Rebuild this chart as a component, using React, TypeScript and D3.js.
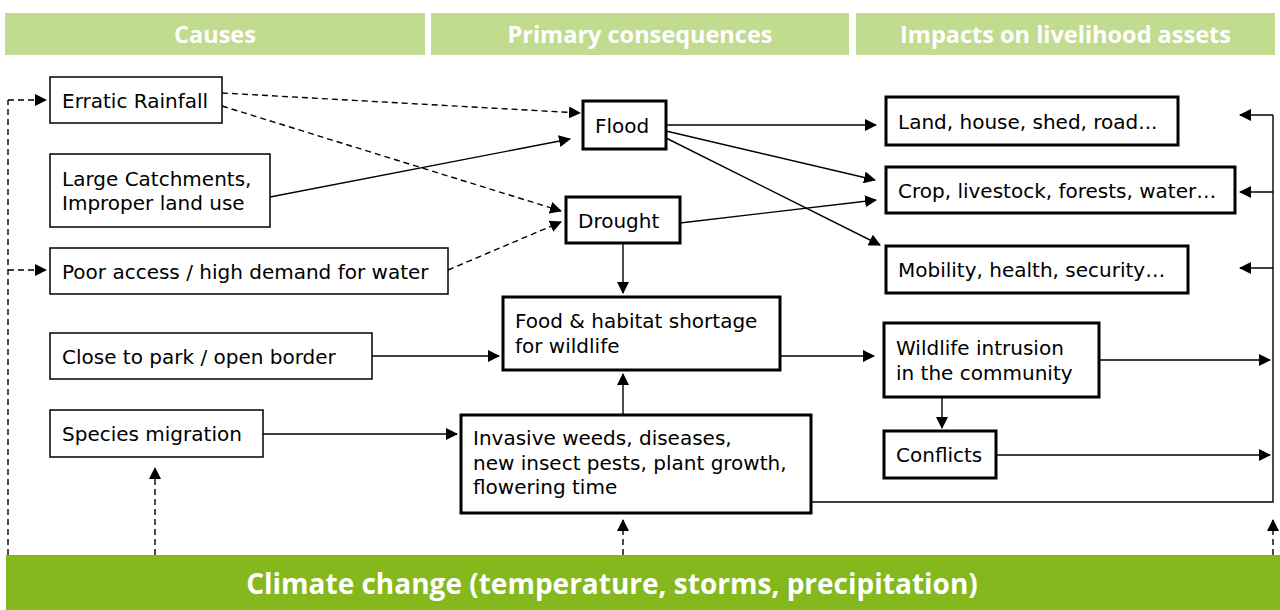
import React, { useRef, useEffect } from "react";
import * as d3 from "d3";

// column headers and bottom driver
const headers = ["Causes", "Primary consequences", "Impacts on livelihood assets"];
const driver = "Climate change (temperature, storms, precipitation)";

// node labels (one entry per line)
const causes = [
  { id: "rain", lines: ["Erratic Rainfall"] },
  { id: "catch", lines: ["Large Catchments,", "Improper land use"] },
  { id: "access", lines: ["Poor access / high demand for water"] },
  { id: "park", lines: ["Close to park / open border"] },
  { id: "migr", lines: ["Species migration"] },
];
const consequences = [
  { id: "flood", lines: ["Flood"] },
  { id: "drought", lines: ["Drought"] },
  { id: "food", lines: ["Food & habitat shortage", "for wildlife"] },
  { id: "weeds", lines: ["Invasive weeds, diseases,", "new insect pests, plant growth,", "flowering time"] },
];
const impacts = [
  { id: "land", lines: ["Land, house, shed, road..."] },
  { id: "crop", lines: ["Crop, livestock, forests, water…"] },
  { id: "mob", lines: ["Mobility, health, security…"] },
  { id: "wild", lines: ["Wildlife intrusion", "in the community"] },
  { id: "conf", lines: ["Conflicts"] },
];

// links between nodes: solid or dashed
const links = [
  { from: "rain", to: "flood", dashed: true },
  { from: "rain", to: "drought", dashed: true },
  { from: "catch", to: "flood", dashed: false },
  { from: "access", to: "drought", dashed: true },
  { from: "drought", to: "food", dashed: false },
  { from: "park", to: "food", dashed: false },
  { from: "migr", to: "weeds", dashed: false },
  { from: "weeds", to: "food", dashed: false },
  { from: "flood", to: "land", dashed: false },
  { from: "flood", to: "crop", dashed: false },
  { from: "flood", to: "mob", dashed: false },
  { from: "drought", to: "crop", dashed: false },
  { from: "food", to: "wild", dashed: false },
  { from: "wild", to: "conf", dashed: false },
];

// layout: box geometry [x, y, w, h]
const box = {
  rain: [50, 77, 172, 46],
  catch: [50, 154, 220, 73],
  access: [50, 248, 398, 46],
  park: [50, 333, 322, 46],
  migr: [50, 410, 213, 47],
  flood: [583, 101, 83, 48],
  drought: [566, 197, 114, 46],
  food: [503, 297, 277, 73],
  weeds: [461, 415, 350, 98],
  land: [886, 97, 292, 48],
  crop: [886, 167, 349, 46],
  mob: [886, 246, 302, 47],
  wild: [884, 323, 215, 74],
  conf: [884, 431, 112, 47],
};
const topAligned = { food: 31, weeds: 30 };

// layout: link endpoints [x1, y1, x2, y2]
const linkPos = {
  "rain-flood": [222, 93, 580, 113],
  "rain-drought": [222, 106, 561, 211],
  "catch-flood": [270, 197, 570, 139],
  "access-drought": [448, 270, 561, 222],
  "drought-food": [623, 243, 623, 293],
  "park-food": [372, 356, 499, 356],
  "migr-weeds": [263, 434, 457, 434],
  "weeds-food": [623, 415, 623, 374],
  "flood-land": [666, 125, 876, 125],
  "flood-crop": [666, 131, 875, 180],
  "flood-mob": [666, 138, 880, 245],
  "drought-crop": [680, 223, 876, 200],
  "food-wild": [780, 356, 874, 356],
  "wild-conf": [942, 397, 942, 428],
};

const FONT = "'DejaVu Sans', sans-serif";
const HFONT = "'Open Sans', sans-serif";

export default function App() {
  const svgRef = useRef(null);

  useEffect(() => {
    const svg = d3.select(svgRef.current);
    svg.selectAll("*").remove();

    const defs = svg.append("defs");
    defs
      .append("marker")
      .attr("id", "arr")
      .attr("viewBox", "0 0 12 12")
      .attr("refX", 11)
      .attr("refY", 6)
      .attr("markerWidth", 12)
      .attr("markerHeight", 12)
      .attr("markerUnits", "userSpaceOnUse")
      .attr("orient", "auto")
      .append("path")
      .attr("d", "M0,0 L12,6 L0,12 Z")
      .attr("fill", "#000");

    // header bars
    const hdrX = [5, 431, 856];
    const hdrW = [420, 418, 419];
    const hg = svg.append("g");
    headers.forEach((h, i) => {
      hg.append("rect")
        .attr("x", hdrX[i])
        .attr("y", 13)
        .attr("width", hdrW[i])
        .attr("height", 42)
        .attr("fill", "#c2dc8f");
      hg.append("text")
        .attr("x", hdrX[i] + hdrW[i] / 2)
        .attr("y", 43)
        .attr("text-anchor", "middle")
        .attr("fill", "#fff")
        .style("font", `bold 23.5px ${HFONT}`)
        .text(h);
    });

    // bottom driver bar
    svg.append("rect")
      .attr("x", 6)
      .attr("y", 555)
      .attr("width", 1274)
      .attr("height", 55)
      .attr("fill", "#84b81c");
    svg.append("text")
      .attr("x", 612)
      .attr("y", 594)
      .attr("text-anchor", "middle")
      .attr("fill", "#fff")
      .style("font", `bold 28px ${HFONT}`)
      .text(driver);

    const line = (g, p, dashed, arrow = true) =>
      g.append("line")
        .attr("x1", p[0]).attr("y1", p[1]).attr("x2", p[2]).attr("y2", p[3])
        .attr("stroke", "#000")
        .attr("stroke-width", 1.4)
        .attr("stroke-dasharray", dashed ? "6,4" : null)
        .attr("marker-end", arrow ? "url(#arr)" : null);

    const lg = svg.append("g");
    links.forEach((l) => line(lg, linkPos[`${l.from}-${l.to}`], l.dashed));

    // feedback lines on the right
    lg.append("path")
      .attr("d", d3.line()([[811, 502], [1273, 502], [1273, 115]]))
      .attr("fill", "none")
      .attr("stroke", "#000")
      .attr("stroke-width", 1.4);
    [115, 192, 268].forEach((y) => line(lg, [1273, y, 1240, y], false));
    line(lg, [1099, 360, 1270, 360], false);
    line(lg, [996, 455, 1270, 455], false);

    // dashed climate links
    lg.append("path")
      .attr("d", d3.line()([[8, 555], [8, 100]]))
      .attr("stroke", "#000")
      .attr("stroke-width", 1.4)
      .attr("stroke-dasharray", "6,4");
    line(lg, [8, 100, 46, 100], true);
    line(lg, [8, 270, 46, 270], true);
    line(lg, [155, 555, 155, 468], true);
    line(lg, [623, 555, 623, 520], true);
    line(lg, [1273, 555, 1273, 520], true);

    // boxes
    const groups = [
      { nodes: causes, sw: 1.5 },
      { nodes: consequences, sw: 3 },
      { nodes: impacts, sw: 3 },
    ];
    const bg = svg.append("g");
    const lh = 24.5;
    groups.forEach(({ nodes, sw }) => {
      nodes.forEach((n) => {
        const [x, y, w, h] = box[n.id];
        bg.append("rect")
          .attr("x", x).attr("y", y).attr("width", w).attr("height", h)
          .attr("fill", "#fff")
          .attr("stroke", "#000")
          .attr("stroke-width", sw);
        const y0 = topAligned[n.id]
          ? y + topAligned[n.id]
          : y + h / 2 + 7.5 - ((n.lines.length - 1) * lh) / 2;
        n.lines.forEach((s, i) => {
          bg.append("text")
            .attr("x", x + 12)
            .attr("y", y0 + i * lh)
            .attr("fill", "#000")
            .style("font", `20px ${FONT}`)
            .text(s);
        });
      });
    });
  }, []);

  return (
    <svg
      ref={svgRef}
      width={1280}
      height={610}
      style={{ position: "absolute", left: 0, top: 0, background: "#fff" }}
    ></svg>
  );
}
